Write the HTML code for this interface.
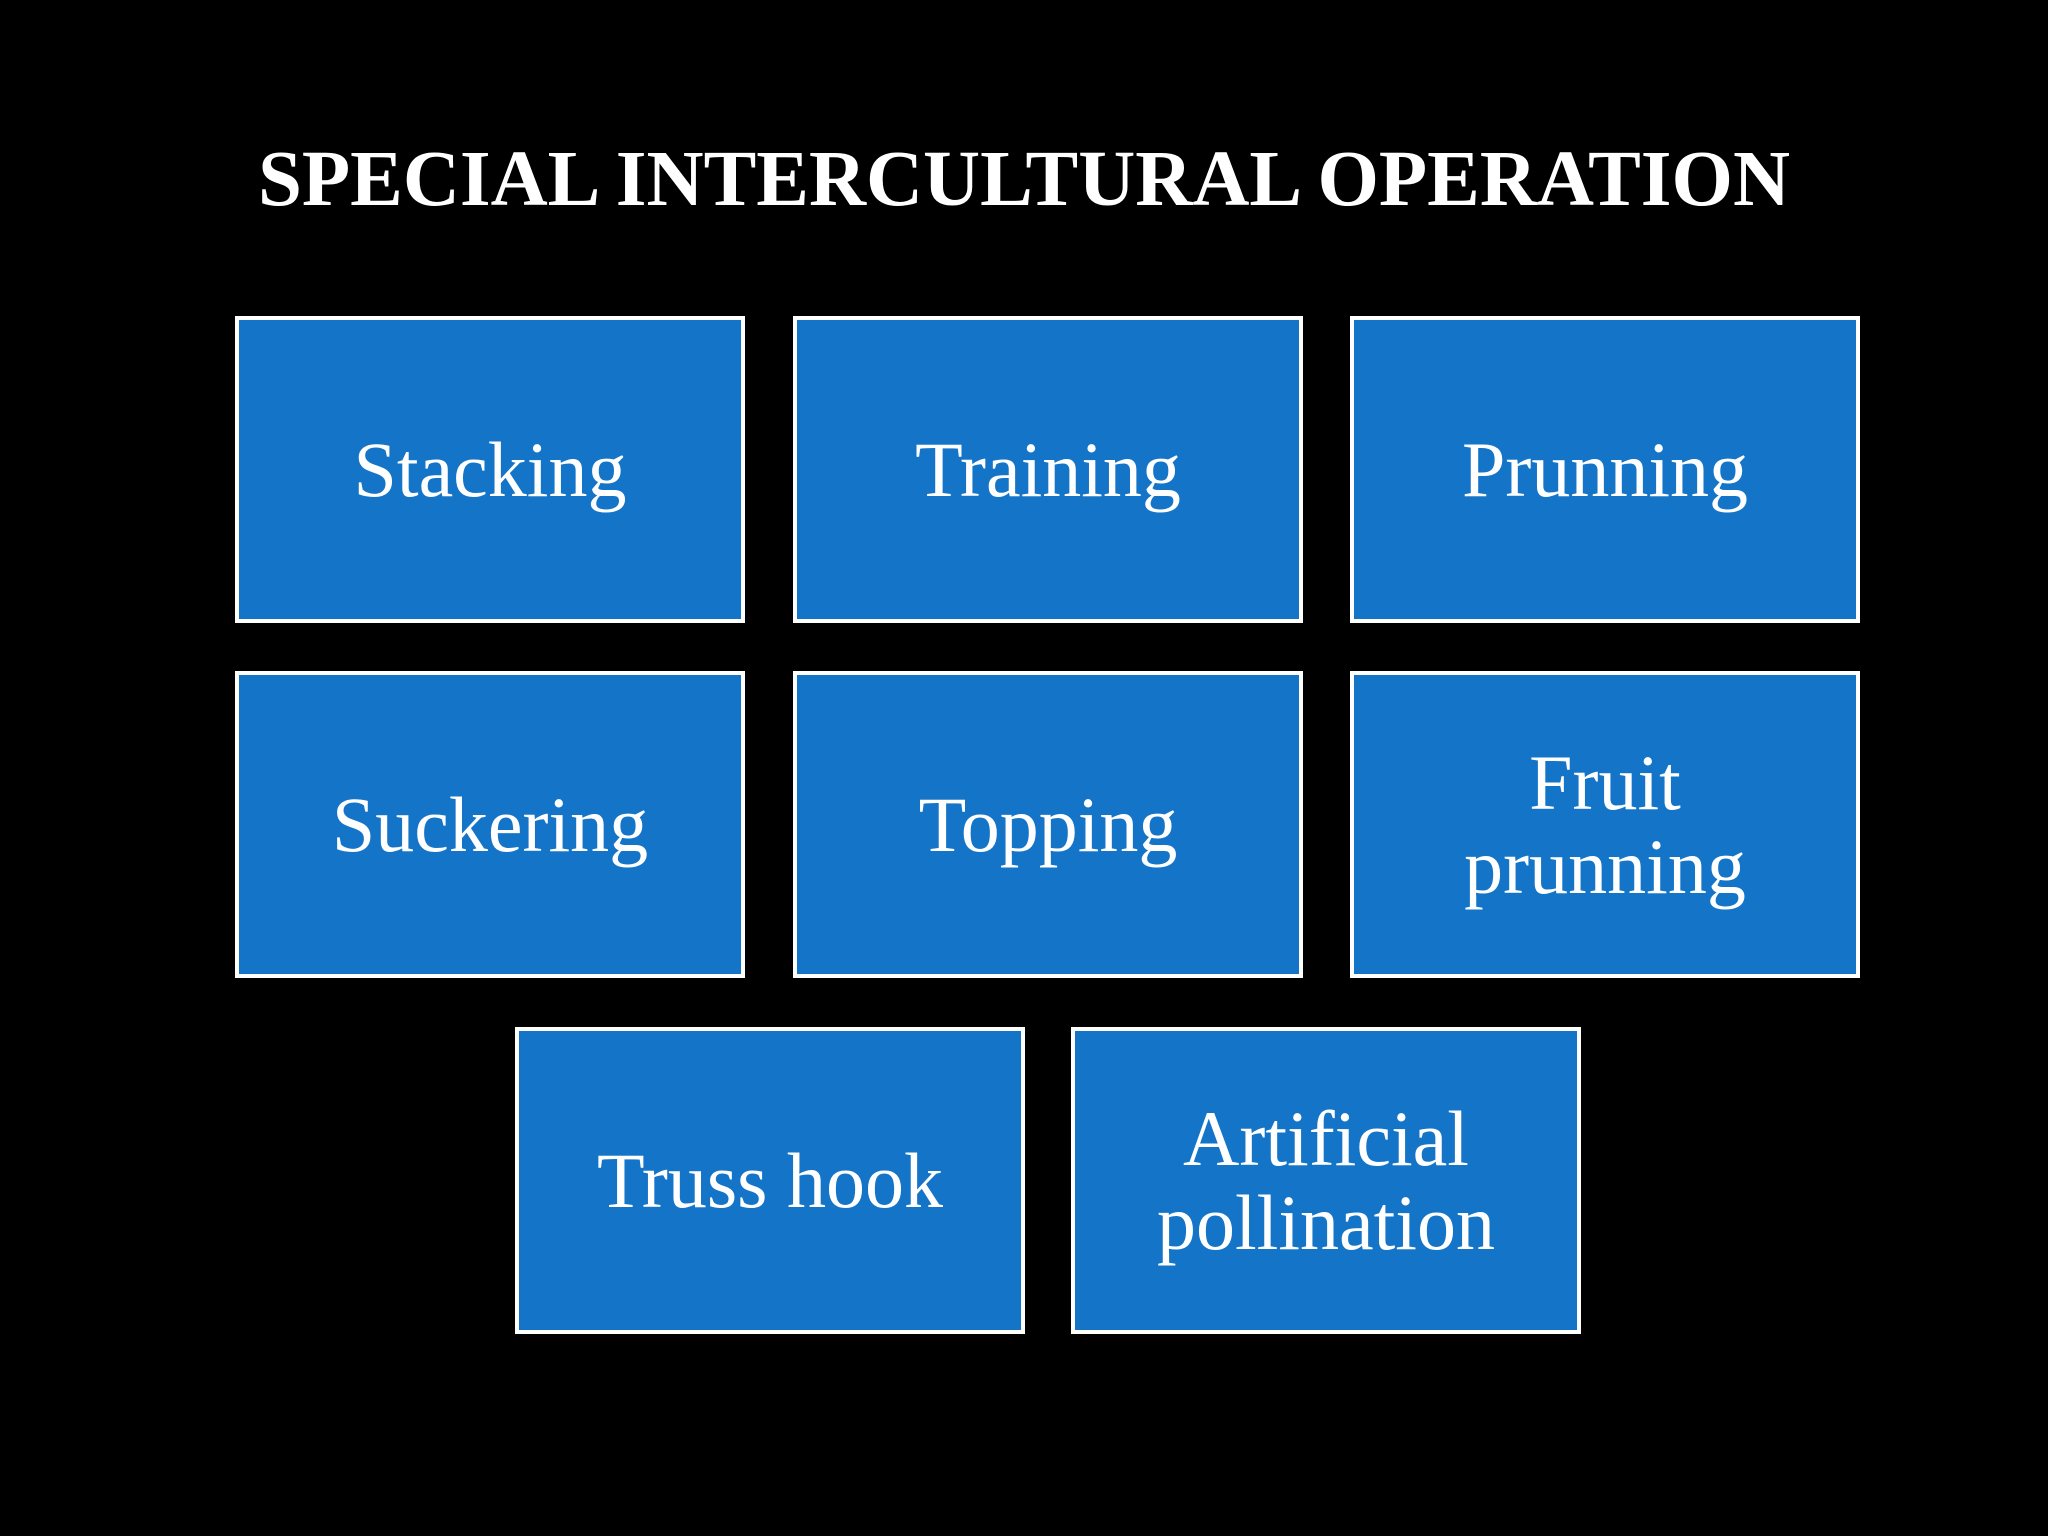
<!DOCTYPE html>
<html><head><meta charset="utf-8"><style>
html,body{margin:0;padding:0;background:#000;}
body{width:2048px;height:1536px;position:relative;overflow:hidden;font-family:"Liberation Serif",serif;}
.t{position:absolute;left:0;width:2048px;top:130px;text-align:center;color:#fff;font-weight:bold;font-size:79px;line-height:100px;}
.b{position:absolute;width:502px;height:299px;border:4px solid #fff;background:#1474c8;color:#fff;display:flex;align-items:center;justify-content:center;text-align:center;font-size:78px;line-height:84px;}
</style></head><body>
<div class="t">SPECIAL INTERCULTURAL OPERATION</div>
<div class="b" style="left:235px;top:316px">Stacking</div>
<div class="b" style="left:793px;top:316px">Training</div>
<div class="b" style="left:1350px;top:316px">Prunning</div>
<div class="b" style="left:235px;top:671px">Suckering</div>
<div class="b" style="left:793px;top:671px">Topping</div>
<div class="b" style="left:1350px;top:671px">Fruit<br>prunning</div>
<div class="b" style="left:515px;top:1027px">Truss hook</div>
<div class="b" style="left:1071px;top:1027px">Artificial<br>pollination</div>
</body></html>
